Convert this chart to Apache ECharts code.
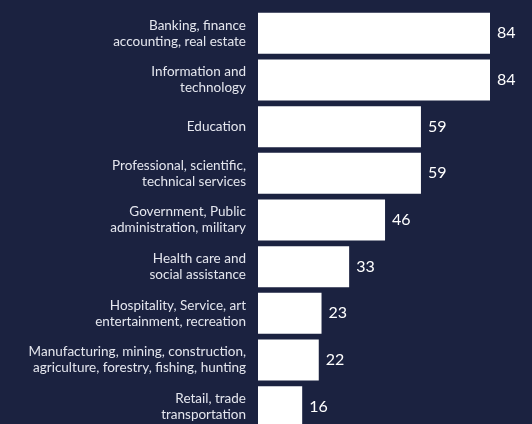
<!DOCTYPE html>
<html>
<head>
<meta charset="utf-8">
<script src="https://cdn.jsdelivr.net/npm/echarts@6/dist/echarts.min.js"></script>
<style>
  html, body { margin: 0; padding: 0; background: #1b2240; }
  #chart { width: 532px; height: 424px; }
</style>
</head>
<body>
<div id="chart"></div>
<script>
// Industry sectors, top to bottom
const categories = [
  'Banking, finance\naccounting, real estate',
  'Information and\ntechnology',
  'Education',
  'Professional, scientific,\ntechnical services',
  'Government, Public\nadministration, military',
  'Health care and\nsocial assistance',
  'Hospitality, Service, art\nentertainment, recreation',
  'Manufacturing, mining, construction,\nagriculture, forestry, fishing, hunting',
  'Retail, trade\ntransportation'
];
const values = [84, 84, 59, 59, 46, 33, 23, 22, 16];

const chart = echarts.init(document.getElementById('chart'));
chart.setOption({
  backgroundColor: '#1b2240',
  animation: false,
  // the last row runs past the lower edge, so the grid is not clamped to the container
  grid: { left: 258, top: 10, width: 232, height: 420, outerBoundsMode: 'none', containLabel: false },
  xAxis: {
    type: 'value',
    min: 0,
    max: 84,
    show: false
  },
  yAxis: {
    type: 'category',
    data: categories,
    inverse: true,
    axisLine: { show: false },
    axisTick: { show: false },
    splitLine: { show: false },
    axisLabel: {
      color: '#e4e6ee',
      fontFamily: 'Lato',
      fontSize: 13.5,
      lineHeight: 16,
      align: 'right',
      margin: 12
    }
  },
  series: [{
    type: 'bar',
    data: values,
    barCategoryGap: '12%',
    itemStyle: { color: '#ffffff' },
    label: {
      show: true,
      position: 'right',
      distance: 7,
      color: '#ffffff',
      fontFamily: 'Lato',
      fontSize: 16
    }
  }]
});
</script>
</body>
</html>
